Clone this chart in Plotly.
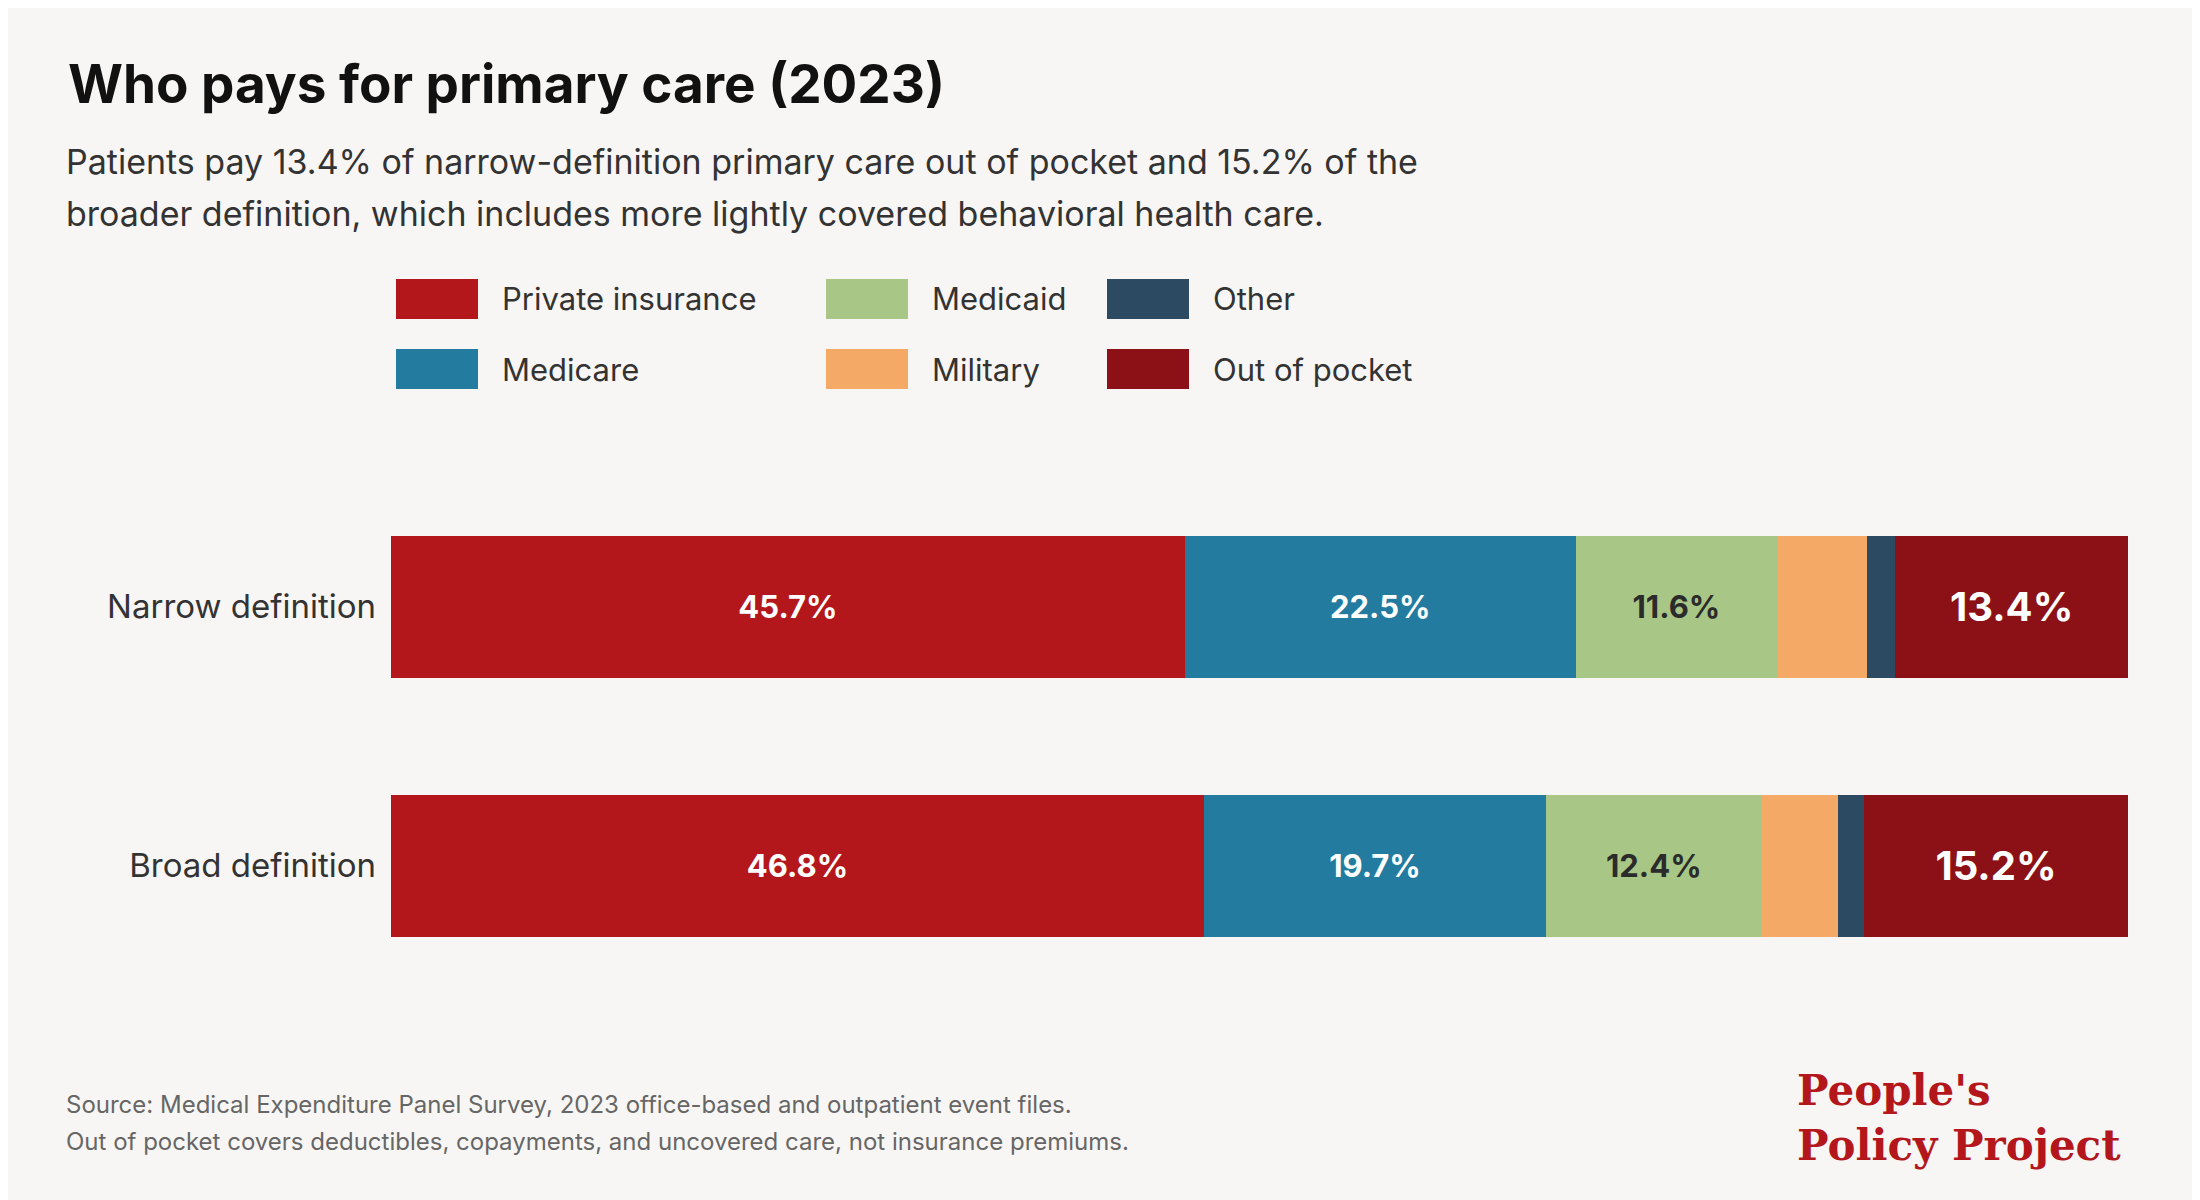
import plotly.graph_objects as go

categories = ["Broad definition", "Narrow definition"]
series = ["Private insurance", "Medicare", "Medicaid", "Military", "Other", "Out of pocket"]
colors = ["#B3171C", "#237BA0", "#A8C686", "#F5A967", "#2C4A62", "#8B1116"]
narrow = [45.7, 22.5, 11.6, 5.2, 1.6, 13.4]
broad = [46.8, 19.7, 12.4, 4.4, 1.5, 15.2]
show_label = [True, True, True, False, False, True]
label_color = ["white", "white", "#2b2b2b", "white", "white", "white"]
label_size = [31, 31, 31, 31, 31, 40]

OFF = 8
W, H = 2200, 1200
L, R, T, B = 391 - OFF, 2128 - OFF, 480 - OFF, 1000 - OFF
def px(x): return (x - OFF - L) / (R - L)
def py(y): return (B - (y - OFF)) / (B - T)

fig = go.Figure()
for i, s in enumerate(series):
    vals = [broad[i], narrow[i]]
    txt = [f"{v:.1f}%" if show_label[i] else "" for v in vals]
    fig.add_trace(go.Bar(
        y=categories, x=vals, name=s, orientation="h",
        marker=dict(color=colors[i], line=dict(width=0)),
        text=txt, textposition="inside", insidetextanchor="middle", textangle=0,
        textfont=dict(family="Inter", size=label_size[i], color=label_color[i], weight="bold"),
        width=0.548, showlegend=False, hoverinfo="skip"))

fig.update_layout(
    barmode="stack", width=W, height=H,
    paper_bgcolor="#F8F6F4", plot_bgcolor="#F8F6F4",
    margin=dict(l=L, r=W - R, t=T, b=H - B, pad=0),
    xaxis=dict(range=[0, 100], visible=False, fixedrange=True),
    yaxis=dict(range=[-0.518, 1.49], showgrid=False, zeroline=False, showline=False,
               ticks="", tickfont=dict(family="Inter", size=33, color="#333"), ticklabelstandoff=14),
    font=dict(family="Inter"),
)

ann = []
ann.append(dict(x=px(66), y=py(84), text="<b>Who pays for primary care (2023)</b>",
                font=dict(family="Inter", size=53, color="#111"), xanchor="left", yanchor="middle"))
for yy, t in [(161, "Patients pay 13.4% of narrow-definition primary care out of pocket and 15.2% of the"),
              (213, "broader definition, which includes more lightly covered behavioral health care.")]:
    ann.append(dict(x=px(64), y=py(yy), text=t, font=dict(family="Inter", size=34, color="#333"),
                    xanchor="left", yanchor="middle"))
cols = [396, 826, 1107]
rows = [299, 369]
order = [(0, 0, 0), (1, 1, 0), (2, 0, 1), (3, 1, 1), (4, 0, 2), (5, 1, 2)]
shapes = []
for i, r, c in order:
    x0, yc = cols[c], rows[r]
    shapes.append(dict(type="rect", xref="paper", yref="paper", x0=px(x0), x1=px(x0 + 82),
                       y0=py(yc - 20), y1=py(yc + 20), fillcolor=colors[i], line=dict(width=0)))
    ann.append(dict(x=px(x0 + 104), y=py(yc), text=series[i], font=dict(family="Inter", size=31, color="#333"),
                    xanchor="left", yanchor="middle"))
for yy, t in [(1104, "Source: Medical Expenditure Panel Survey, 2023 office-based and outpatient event files."),
              (1141, "Out of pocket covers deductibles, copayments, and uncovered care, not insurance premiums.")]:
    ann.append(dict(x=px(64), y=py(yy), text=t, font=dict(family="Inter", size=24, color="#666"),
                    xanchor="left", yanchor="middle"))
ann.append(dict(x=px(1795), y=py(1118), text="<b>People's<br>Policy Project</b>", align="left",
                font=dict(family="DejaVu Serif", size=42, color="#B3171C"), xanchor="left", yanchor="middle"))
for a in ann:
    a.update(xref="paper", yref="paper", showarrow=False)
fig.update_layout(annotations=ann, shapes=shapes)
fig.write_html("out.html")
